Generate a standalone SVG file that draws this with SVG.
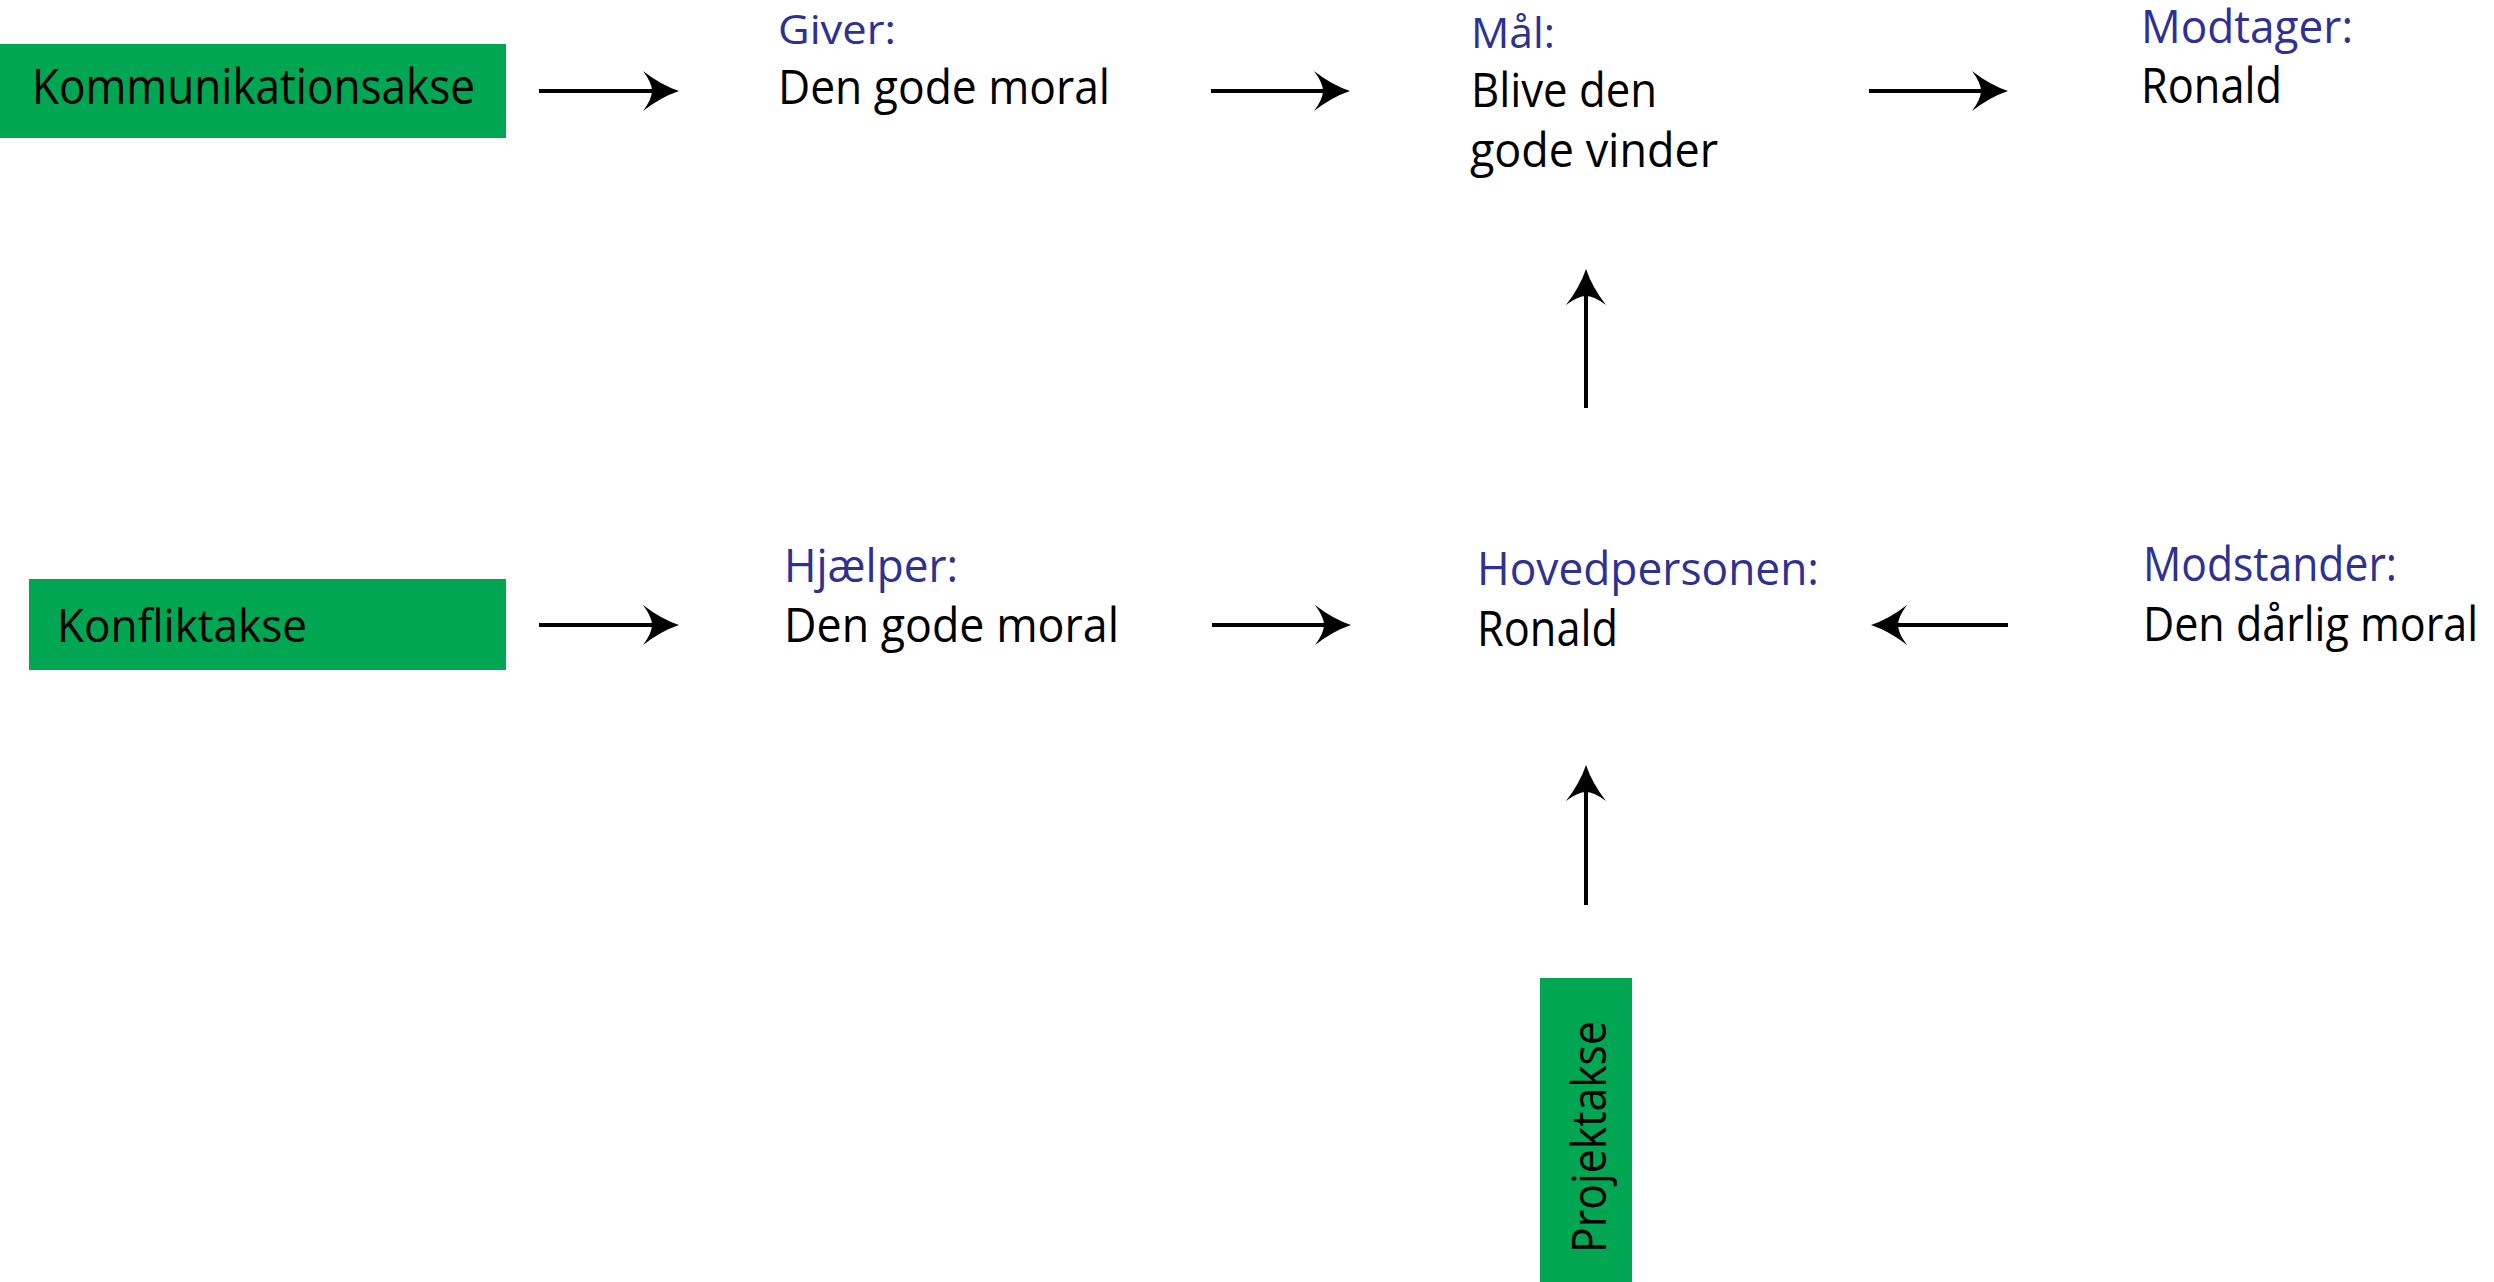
<svg xmlns="http://www.w3.org/2000/svg" width="2494" height="1282" viewBox="0 0 2494 1282">
<style>
text{font-family:"Open Sans","Noto Sans",sans-serif;}
.lbl{fill:#2e3192;}
.val{fill:#000000;}
.axis{fill:#00a651;}
.conn{stroke:#000;stroke-width:4;fill:none;marker-end:url(#ah);}
</style>
<defs>
<marker id="ah" markerUnits="userSpaceOnUse" viewBox="-40 -24 44 48" markerWidth="44" markerHeight="48" refX="-20" refY="0" orient="auto">
<path d="M0,0 Q-18,-6 -36,-20 Q-27,-8 -27,0 Q-27,8 -36,20 Q-18,6 0,0 Z" fill="#000"/>
</marker>
</defs>
<rect width="2494" height="1282" fill="#fff"/>
<g id="kommunikationsakse">
<rect class="axis" x="0" y="44" width="506" height="94"/>
<text class="val" x="32" y="104" font-size="49" textLength="443" lengthAdjust="spacingAndGlyphs">Kommunikationsakse</text>
</g>
<g id="giver">
<text class="lbl" x="778" y="44" font-size="41" textLength="118" lengthAdjust="spacingAndGlyphs">Giver:</text>
<text class="val" x="778" y="104" font-size="48" textLength="332" lengthAdjust="spacingAndGlyphs">Den gode moral</text>
</g>
<g id="maal">
<text class="lbl" x="1471" y="48" font-size="42" textLength="84" lengthAdjust="spacingAndGlyphs">Mål:</text>
<text class="val" x="1471" y="107" font-size="48" textLength="186" lengthAdjust="spacingAndGlyphs">Blive den</text>
<text class="val" x="1470" y="167" font-size="48" textLength="248" lengthAdjust="spacingAndGlyphs">gode vinder</text>
</g>
<g id="modtager">
<text class="lbl" x="2141" y="43" font-size="46" textLength="212" lengthAdjust="spacingAndGlyphs">Modtager:</text>
<text class="val" x="2141" y="103" font-size="49" textLength="141" lengthAdjust="spacingAndGlyphs">Ronald</text>
</g>
<g id="konfliktakse">
<rect class="axis" x="29" y="579" width="477" height="91"/>
<text class="val" x="57" y="642" font-size="45" textLength="250" lengthAdjust="spacingAndGlyphs">Konfliktakse</text>
</g>
<g id="hjaelper">
<text class="lbl" x="784" y="582" font-size="45" textLength="174" lengthAdjust="spacingAndGlyphs">Hjælper:</text>
<text class="val" x="784" y="642" font-size="48" textLength="335" lengthAdjust="spacingAndGlyphs">Den gode moral</text>
</g>
<g id="hovedpersonen">
<text class="lbl" x="1477" y="585" font-size="46" textLength="342" lengthAdjust="spacingAndGlyphs">Hovedpersonen:</text>
<text class="val" x="1477" y="646" font-size="49" textLength="141" lengthAdjust="spacingAndGlyphs">Ronald</text>
</g>
<g id="modstander">
<text class="lbl" x="2143" y="581" font-size="48" textLength="254" lengthAdjust="spacingAndGlyphs">Modstander:</text>
<text class="val" x="2143" y="641" font-size="48" textLength="335" lengthAdjust="spacingAndGlyphs">Den dårlig moral</text>
</g>
<g id="projektakse">
<rect class="axis" x="1540" y="978" width="92" height="304"/>
<text class="val" transform="translate(1606,1253) rotate(-90)" font-size="47" textLength="232" lengthAdjust="spacingAndGlyphs">Projektakse</text>
</g>
<g id="connectors">
<line class="conn" x1="539" y1="91" x2="659" y2="91"/>
<line class="conn" x1="1211" y1="91" x2="1330" y2="91"/>
<line class="conn" x1="1869" y1="91" x2="1988" y2="91"/>
<line class="conn" x1="539" y1="625" x2="659" y2="625"/>
<line class="conn" x1="1212" y1="625" x2="1331" y2="625"/>
<line class="conn" x1="2008" y1="625" x2="1891" y2="625"/>
<line class="conn" x1="1586" y1="408" x2="1586" y2="289"/>
<line class="conn" x1="1586" y1="905" x2="1586" y2="785"/>
</g>
</svg>
